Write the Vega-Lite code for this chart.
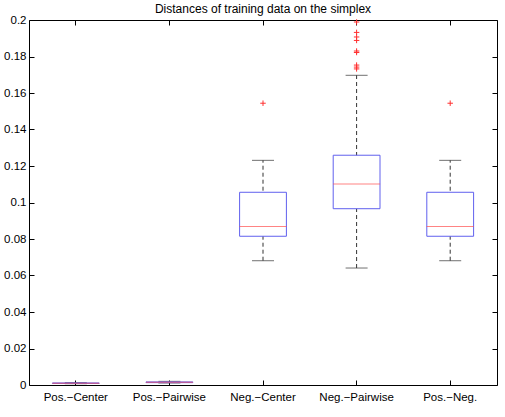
{
  "$schema": "https://vega.github.io/schema/vega-lite/v6.json",
  "width": 468,
  "height": 365,
  "autosize": "none",
  "padding": {"left": 29, "top": 20, "right": 8, "bottom": 32},
  "background": "white",
  "title": {"text": "Distances of training data on the simplex", "fontSize": 12, "fontWeight": "normal", "font": "Liberation Sans", "color": "black", "offset": -2},
  "config": {
    "view": {"stroke": "black", "strokeWidth": 1},
    "axis": {"labelFont": "Liberation Sans", "labelFontSize": 11.5, "labelColor": "black", "tickColor": "black", "domain": false, "grid": false, "title": null}
  },
  "datasets": {
    "stats": [
      {"group": "Pos.−Center", "lower": 0.0007, "q1": 0.0009, "median": 0.001, "q3": 0.0011, "upper": 0.0013},
      {"group": "Pos.−Pairwise", "lower": 0.0011, "q1": 0.0013, "median": 0.0015, "q3": 0.0017, "upper": 0.002},
      {"group": "Neg.−Center", "lower": 0.0681, "q1": 0.0815, "median": 0.0868, "q3": 0.1056, "upper": 0.1231},
      {"group": "Neg.−Pairwise", "lower": 0.0641, "q1": 0.0966, "median": 0.1101, "q3": 0.1259, "upper": 0.1697},
      {"group": "Pos.−Neg.", "lower": 0.0681, "q1": 0.0815, "median": 0.0868, "q3": 0.1056, "upper": 0.1231}
    ],
    "outliers": [
      {"group": "Neg.−Center", "value": 0.1544},
      {"group": "Neg.−Pairwise", "value": 0.1989},
      {"group": "Neg.−Pairwise", "value": 0.1932},
      {"group": "Neg.−Pairwise", "value": 0.1907},
      {"group": "Neg.−Pairwise", "value": 0.1888},
      {"group": "Neg.−Pairwise", "value": 0.1830},
      {"group": "Neg.−Pairwise", "value": 0.1822},
      {"group": "Neg.−Pairwise", "value": 0.1753},
      {"group": "Neg.−Pairwise", "value": 0.1742},
      {"group": "Neg.−Pairwise", "value": 0.1732},
      {"group": "Pos.−Neg.", "value": 0.1544}
    ]
  },
  "resolve": {"axis": {"x": "independent", "y": "independent"}},
  "layer": [
    {
      "data": {"name": "stats"},
      "mark": {"type": "rule", "color": "#333333", "strokeDash": [4, 3], "strokeWidth": 1},
      "encoding": {
        "x": {"field": "group", "type": "nominal", "sort": null, "scale": {"type": "band", "paddingInner": 0, "paddingOuter": 0}, "axis": {"orient": "bottom", "labelAngle": 0, "tickSize": -5, "labelPadding": 11}},
        "y": {"field": "lower", "type": "quantitative", "scale": {"domain": [0, 0.2], "nice": false, "zero": true}, "axis": {"orient": "left", "values": [0, 0.02, 0.04, 0.06, 0.08, 0.1, 0.12, 0.14, 0.16, 0.18, 0.2], "format": ".2~f", "tickSize": -5, "labelPadding": 8}},
        "y2": {"field": "upper"}
      }
    },
    {
      "data": {"name": "stats"},
      "mark": {"type": "tick", "color": "#333333", "size": 22, "thickness": 1, "orient": "horizontal"},
      "encoding": {
        "x": {"field": "group", "type": "nominal", "sort": null, "axis": {"orient": "top", "labels": false, "tickSize": -5}},
        "y": {"field": "upper", "type": "quantitative", "axis": {"orient": "right", "labels": false, "values": [0, 0.02, 0.04, 0.06, 0.08, 0.1, 0.12, 0.14, 0.16, 0.18, 0.2], "tickSize": -5}}
      }
    },
    {
      "data": {"name": "stats"},
      "mark": {"type": "tick", "color": "#333333", "size": 22, "thickness": 1, "orient": "horizontal"},
      "encoding": {
        "x": {"field": "group", "type": "nominal", "sort": null, "axis": null},
        "y": {"field": "lower", "type": "quantitative", "axis": null}
      }
    },
    {
      "data": {"name": "stats"},
      "mark": {"type": "bar", "fill": "white", "stroke": "#6060ee", "strokeWidth": 1, "width": {"band": 0.5}},
      "encoding": {
        "x": {"field": "group", "type": "nominal", "sort": null, "axis": null},
        "y": {"field": "q1", "type": "quantitative", "axis": null},
        "y2": {"field": "q3"}
      }
    },
    {
      "data": {"name": "stats"},
      "mark": {"type": "tick", "color": "#ff5050", "size": 47, "thickness": 1, "orient": "horizontal"},
      "encoding": {
        "x": {"field": "group", "type": "nominal", "sort": null, "axis": null},
        "y": {"field": "median", "type": "quantitative", "axis": null}
      }
    },
    {
      "data": {"name": "outliers"},
      "mark": {"type": "point", "shape": "M-1,0H1M0,-1V1", "filled": false, "stroke": "#ff3030", "strokeWidth": 1, "size": 30, "opacity": 1},
      "encoding": {
        "x": {"field": "group", "type": "nominal", "sort": null, "axis": null},
        "y": {"field": "value", "type": "quantitative", "axis": null}
      }
    }
  ]
}
